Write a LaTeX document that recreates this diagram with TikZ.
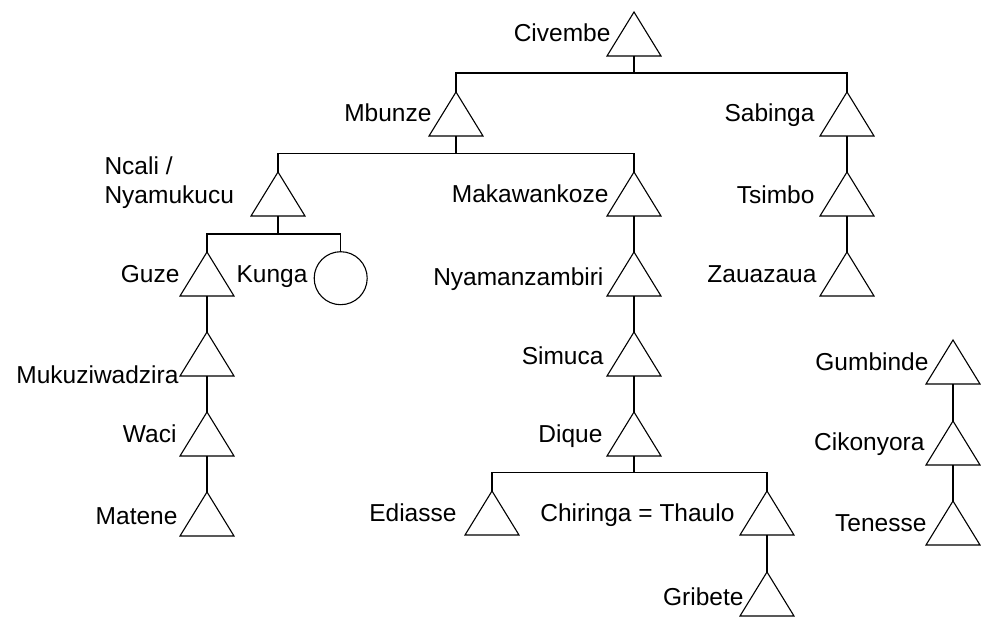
\documentclass[tikz,border=0pt]{standalone}
\usepackage{fontspec}
\setmainfont{Liberation Sans}
\begin{document}
\begin{tikzpicture}[x=1pt,y=-1pt,line width=1.1pt,
  male/.style={minimum width=54pt,minimum height=44pt,inner sep=0pt,outer sep=0pt},
  female/.style={circle,draw,minimum size=53pt,inner sep=0pt,outer sep=0pt},
  lbl/.style={anchor=base east,inner sep=0pt,font=\fontsize{24.5}{29}\selectfont}]
\useasboundingbox (0,0) rectangle (988,623);

% individuals: node centre = (x, apex + 22)
\node[male] (civ) at (634,34) {};
\node[male] (mbu) at (456,114) {};
\node[male] (sab) at (847,114) {};
\node[male] (nca) at (278,194) {};
\node[male] (mak) at (634,194) {};
\node[male] (tsi) at (847,194) {};
\node[male] (guz) at (207,274) {};
\node[female] (kun) at (340.7,278.2) {};
\node[male] (nya) at (634,274) {};
\node[male] (zau) at (847,274) {};
\node[male] (muk) at (207,354) {};
\node[male] (sim) at (634,354) {};
\node[male] (gum) at (953,362) {};
\node[male] (wac) at (207,434) {};
\node[male] (diq) at (634,434) {};
\node[male] (cik) at (953,443) {};
\node[male] (mat) at (207,514) {};
\node[male] (edi) at (492,513) {};
\node[male] (tha) at (767,513) {};
\node[male] (ten) at (953,523) {};
\node[male] (gri) at (767,594) {};

\foreach \n in {civ,mbu,sab,nca,mak,tsi,guz,nya,zau,muk,sim,gum,wac,diq,cik,mat,edi,tha,ten,gri}
  \draw (\n.north) -- (\n.south west) -- (\n.south east) -- cycle;

% names
\node[lbl] (tciv) at (611,42) {Civembe};
\node[lbl] (tmbu) at (432,122) {Mbunze};
\node[anchor=base west,inner sep=0pt,align=left,font=\fontsize{24.5}{29}\selectfont] (tnca) at (104,204) {Ncali /\\Nyamukucu};
\node[lbl] (tguz) at (180,282) {Guze};
\node[lbl] (tkun) at (308,282) {Kunga};
\node[lbl] (tmuk) at (179,383) {Mukuziwadzira};
\node[lbl] (twac) at (177,442) {Waci};
\node[lbl] (tmat) at (178,524) {Matene};
\node[lbl] (tmak) at (609,202) {Makawankoze};
\node[lbl] (tnya) at (604,285) {Nyamanzambiri};
\node[lbl] (tsim) at (604,364) {Simuca};
\node[lbl] (tdiq) at (603,442) {Dique};
\node[lbl] (tedi) at (457,521) {Ediasse};
\node[lbl] (ttha) at (735,521) {Chiringa = Thaulo};
\node[lbl] (tgri) at (744,605) {Gribete};
\node[lbl] (tsab) at (815,122) {Sabinga};
\node[lbl] (ttsi) at (815,204) {Tsimbo};
\node[lbl] (tzau) at (817,282) {Zauazaua};
\node[lbl] (tgum) at (929,370) {Gumbinde};
\node[lbl] (tcik) at (925,450) {Cikonyora};
\node[lbl] (tten) at (927,531) {Tenesse};

% sibling bars
\draw (civ.south) -- (civ.south |- 0,73);
\draw (mbu.north) -- (mbu.north |- 0,73) -- (sab.north |- 0,73) -- (sab.north);
\draw (mbu.south) -- (mbu.south |- 0,153.5);
\draw (nca.north) -- (nca.north |- 0,153.5) -- (mak.north |- 0,153.5) -- (mak.north);
\draw (nca.south) -- (nca.south |- 0,234);
\draw (guz.north) -- (guz.north |- 0,234) -- (kun.north |- 0,234) -- (kun.north);
\draw (diq.south) -- (diq.south |- 0,472.5);
\draw (edi.north) -- (edi.north |- 0,472.5) -- (tha.north |- 0,472.5) -- (tha.north);

% single lines of descent
\draw (sab.south) -- (tsi.north);
\draw (tsi.south) -- (zau.north);
\draw (mak.south) -- (nya.north);
\draw (nya.south) -- (sim.north);
\draw (sim.south) -- (diq.north);
\draw (guz.south) -- (muk.north);
\draw (muk.south) -- (wac.north);
\draw (wac.south) -- (mat.north);
\draw (tha.south) -- (gri.north);
\draw (gum.south) -- (cik.north);
\draw (cik.south) -- (ten.north);
\end{tikzpicture}
\end{document}
